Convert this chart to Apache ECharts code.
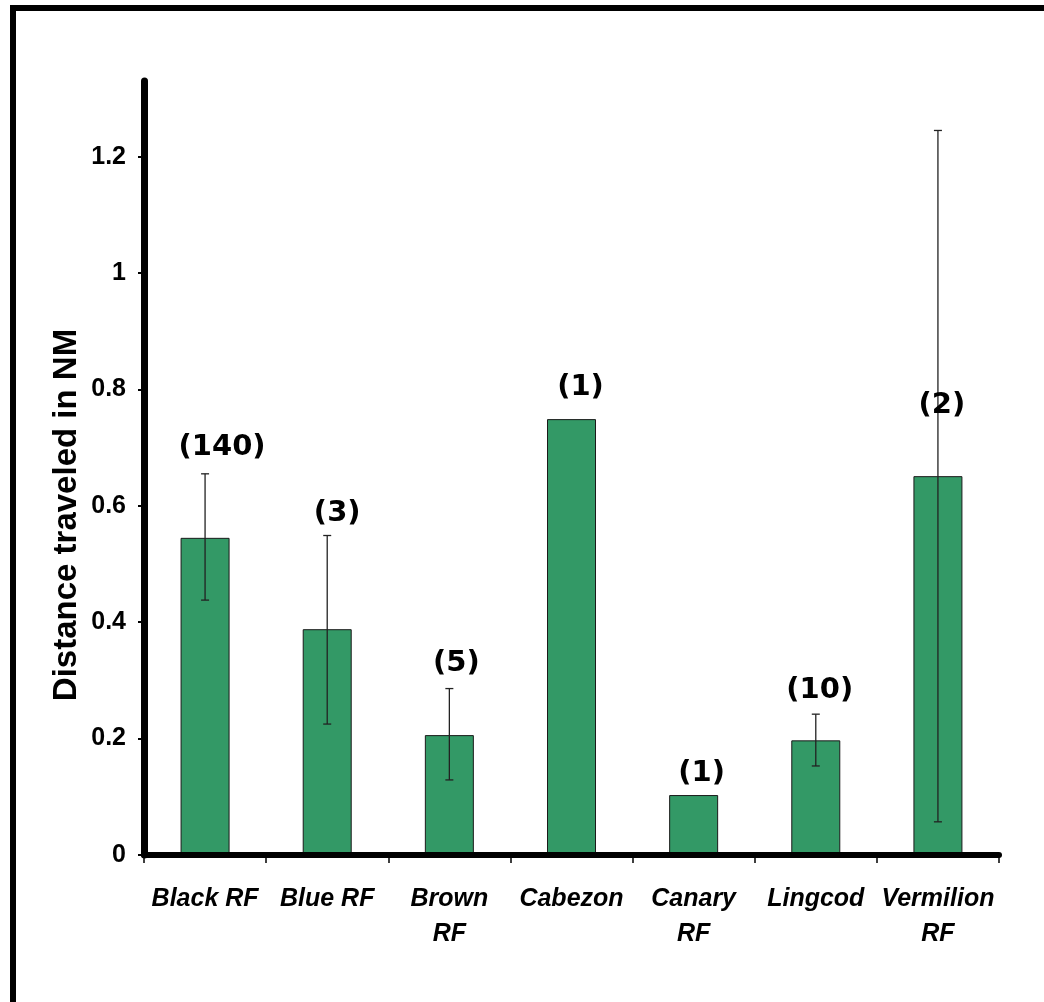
<!DOCTYPE html>
<html>
<head>
<meta charset="utf-8">
<title>Distance traveled in NM</title>
<script src="https://cdn.jsdelivr.net/npm/echarts@6/dist/echarts.min.js"></script>
<style>
  html, body { margin: 0; padding: 0; background: #ffffff; }
  #chart { width: 1044px; height: 1002px; }
</style>
</head>
<body>
<div id="chart"></div>
<script>
// Species (category axis)
const categories = ['Black RF', 'Blue RF', 'Brown\nRF', 'Cabezon', 'Canary\nRF', 'Lingcod', 'Vermilion\nRF'];
// Mean distance traveled (nautical miles)
const meanDistance = [0.545, 0.388, 0.206, 0.749, 0.103, 0.197, 0.651];
// Error bar ends (null where no bar is drawn)
const errUpper = [0.655, 0.549, 0.286, null, null, 0.242, 1.245];
const errLower = [0.438, 0.225, 0.129, null, null, 0.153, 0.057];
// Number of recaptured fish per species
const sampleSize = ['(140)', '(3)', '(5)', '(1)', '(1)', '(10)', '(2)'];
// Value axis tick labels
const yTicks = [0, 0.2, 0.4, 0.6, 0.8, 1, 1.2];

// Layout tweaks for the count labels (pixels)
const labelNudgeX = [17, 10, 7, 9, 8, 4, 4];
const labelLift = [27, 23, 26, 32, 22, 24, 71];

const chart = echarts.init(document.getElementById('chart'), null, { renderer: 'canvas' });

const countData = categories.map((c, i) => {
  // Vermilion label sits beside its long whisker, measured from the bar top
  const anchor = (i === 6 || errUpper[i] == null) ? meanDistance[i] : errUpper[i];
  return {
    value: [i, anchor],
    label: {
      formatter: sampleSize[i],
      offset: [labelNudgeX[i], 0],
      distance: labelLift[i] - 15
    }
  };
});

const errorData = categories.map((c, i) => [i, errLower[i], errUpper[i]])
  .filter(d => d[1] != null && d[2] != null);

const option = {
  backgroundColor: '#ffffff',
  animation: false,
  grid: { left: 144, right: 45, top: 81, bottom: 147, containLabel: false },
  graphic: [
    {
      type: 'rect',
      shape: { x: 13, y: 8, width: 1100, height: 1100 },
      style: { fill: 'none', stroke: '#000000', lineWidth: 6 },
      z: 100
    },
    {
      type: 'text',
      x: 67,
      y: 515,
      rotation: Math.PI / 2,
      style: {
        text: 'Distance traveled in NM',
        font: 'bold 33px "Liberation Sans", Arial, sans-serif',
        fill: '#000000',
        align: 'center',
        verticalAlign: 'middle'
      }
    }
  ],
  xAxis: {
    type: 'category',
    data: categories,
    boundaryGap: true,
    z: 5,
    axisLine: { lineStyle: { color: '#000000', width: 6 } },
    axisTick: { show: true, length: 8, lineStyle: { color: '#000000', width: 1.5 } },
    axisLabel: {
      interval: 0,
      margin: 27,
      color: '#000000',
      fontFamily: '"Liberation Sans", Arial, sans-serif',
      fontWeight: 'bold',
      fontStyle: 'italic',
      fontSize: 25,
      lineHeight: 35
    },
    splitLine: { show: false }
  },
  yAxis: {
    type: 'value',
    min: 0,
    max: 1.33,
    interval: 0.2,
    z: 5,
    axisLine: { show: true, lineStyle: { color: '#000000', width: 7 } },
    axisTick: {
      show: true, inside: false, length: 6,
      customValues: yTicks,
      lineStyle: { color: '#000000', width: 2 }
    },
    axisLabel: {
      customValues: yTicks,
      margin: 18,
      color: '#000000',
      fontFamily: '"Liberation Sans", Arial, sans-serif',
      fontWeight: 'bold',
      fontSize: 25
    },
    splitLine: { show: false }
  },
  series: [
    {
      type: 'bar',
      data: meanDistance,
      barWidth: 49,
      itemStyle: { color: '#339966', borderColor: '#1a1a1a', borderWidth: 1 },
      z: 2
    },
    {
      type: 'custom',
      data: errorData,
      z: 3,
      renderItem: function (params, api) {
        const x = api.value(0);
        const lo = api.coord([x, api.value(1)]);
        const hi = api.coord([x, api.value(2)]);
        const cap = 4;
        const style = { stroke: '#222222', lineWidth: 1.3 };
        return {
          type: 'group',
          children: [
            { type: 'line', shape: { x1: hi[0], y1: hi[1], x2: lo[0], y2: lo[1] }, style: style },
            { type: 'line', shape: { x1: hi[0] - cap, y1: hi[1], x2: hi[0] + cap, y2: hi[1] }, style: style },
            { type: 'line', shape: { x1: lo[0] - cap, y1: lo[1], x2: lo[0] + cap, y2: lo[1] }, style: style }
          ]
        };
      }
    },
    {
      type: 'scatter',
      data: countData,
      symbolSize: 0,
      itemStyle: { opacity: 1 },
      z: 4,
      label: {
        show: true,
        position: 'top',
        color: '#000000',
        opacity: 1,
        fontFamily: '"DejaVu Sans", Verdana, sans-serif',
        fontWeight: 'bold',
        fontSize: 29
      }
    }
  ]
};

chart.setOption(option);
</script>
</body>
</html>
